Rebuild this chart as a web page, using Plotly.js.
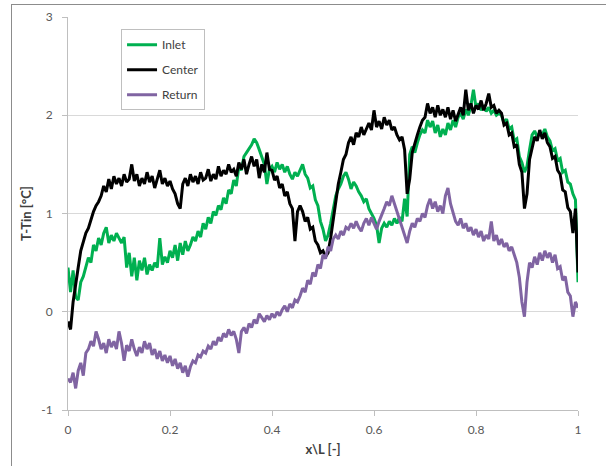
<!DOCTYPE html>
<html>
<head>
<meta charset="utf-8">
<script src="https://cdn.plot.ly/plotly-3.0.1.min.js"></script>
<style>
  html, body { margin: 0; padding: 0; background: #ffffff; }
  #wrap { position: relative; width: 606px; height: 466px; overflow: hidden; }
  #frame { position: absolute; left: 11px; top: 4px; width: 700px; height: 600px;
           border-top: 1px solid #8c8c8c; border-left: 1px solid #8c8c8c; pointer-events: none; z-index: 5; }
  #chart { position: absolute; left: 0; top: 0; width: 606px; height: 466px; }
</style>
</head>
<body>
<div id="wrap">
  <div id="chart"></div>
  <div id="frame"></div>
</div>
<script>
// sample spacing along x\L (201 samples from 0 to 1)
const nSamples = 201;
const xStep = 0.005;

const inlet = [
 0.45,0.20,0.42,0.15,0.12,0.30,0.36,0.45,0.55,0.50,
 0.68,0.62,0.75,0.68,0.80,0.86,0.70,0.78,0.72,0.80,
 0.75,0.70,0.76,0.45,0.60,0.36,0.55,0.32,0.52,0.42,
 0.55,0.38,0.48,0.42,0.50,0.45,0.75,0.48,0.56,0.50,
 0.62,0.55,0.68,0.52,0.70,0.58,0.72,0.62,0.68,0.76,
 0.72,0.82,0.76,0.90,0.84,0.96,0.90,1.02,0.98,1.08,
 1.04,1.16,1.10,1.24,1.20,1.34,1.28,1.48,1.44,1.58,
 1.62,1.66,1.70,1.76,1.72,1.65,1.58,1.50,1.30,1.45,
 1.48,1.42,1.52,1.45,1.50,1.42,1.48,1.40,1.35,1.42,
 1.38,1.45,1.50,1.40,1.36,1.26,1.28,1.14,1.08,0.92,
 0.84,0.72,0.78,0.90,1.05,1.18,1.25,1.30,1.38,1.42,
 1.35,1.25,1.32,1.28,1.22,1.18,1.12,1.15,1.05,1.00,
 0.95,0.88,0.70,0.85,0.90,0.86,0.92,0.88,0.95,0.90,
 0.96,0.92,1.15,0.97,1.60,1.68,1.62,1.72,1.80,1.85,
 1.82,1.95,1.88,1.94,1.82,1.90,1.78,1.86,1.80,1.92,
 1.85,1.95,1.88,1.98,2.02,1.96,2.06,2.00,2.10,2.26,
 2.08,2.12,2.05,2.10,2.04,2.08,2.02,2.05,2.00,2.02,
 2.00,1.92,1.96,1.86,1.88,1.74,1.76,1.58,1.52,1.42,
 1.48,1.65,1.80,1.84,1.78,1.82,1.80,1.86,1.78,1.74,
 1.64,1.66,1.54,1.56,1.42,1.44,1.32,1.30,1.20,1.14,
 0.30
];

const center = [
 -0.10,-0.18,0.10,0.30,0.45,0.62,0.70,0.80,0.85,0.95,
 1.02,1.08,1.12,1.18,1.28,1.22,1.35,1.25,1.38,1.30,
 1.36,1.28,1.40,1.32,1.35,1.50,1.33,1.40,1.28,1.36,
 1.30,1.42,1.32,1.38,1.26,1.35,1.44,1.30,1.36,1.28,
 1.33,1.25,1.20,1.10,1.05,1.30,1.36,1.28,1.40,1.32,
 1.38,1.30,1.42,1.34,1.36,1.45,1.33,1.40,1.35,1.48,
 1.38,1.44,1.40,1.50,1.42,1.45,1.38,1.52,1.45,1.55,
 1.40,1.50,1.58,1.48,1.55,1.36,1.50,1.42,1.62,1.45,
 1.44,1.34,1.38,1.26,1.30,1.18,1.22,1.10,1.05,0.72,
 1.02,1.08,1.02,0.92,0.96,0.84,0.86,0.72,0.68,0.60,
 0.62,0.56,0.60,0.75,0.95,1.15,1.30,1.42,1.55,1.60,
 1.72,1.78,1.70,1.82,1.78,1.88,1.80,1.86,1.92,1.85,
 2.05,1.88,1.94,1.86,1.98,1.90,1.95,1.85,1.88,1.80,
 1.75,1.78,1.65,1.20,1.35,1.62,1.72,1.80,1.88,1.95,
 1.98,2.12,2.02,2.08,1.98,2.10,2.00,2.06,1.98,2.08,
 1.96,2.05,1.94,2.02,2.08,2.00,2.26,2.05,2.12,2.02,
 2.10,2.06,2.15,2.05,2.12,2.22,2.08,2.10,2.02,2.05,
 2.02,1.90,1.92,1.80,1.82,1.68,1.70,1.50,1.42,1.05,
 1.20,1.55,1.68,1.78,1.74,1.85,1.76,1.82,1.72,1.68,
 1.56,1.58,1.44,1.40,1.24,1.22,1.06,1.02,0.80,1.05,
 0.40
];

const ret = [
 -0.68,-0.72,-0.62,-0.78,-0.60,-0.52,-0.65,-0.42,-0.38,-0.30,
 -0.35,-0.20,-0.28,-0.38,-0.32,-0.42,-0.28,-0.36,-0.30,-0.38,
 -0.20,-0.32,-0.50,-0.34,-0.40,-0.28,-0.38,-0.45,-0.36,-0.42,
 -0.30,-0.38,-0.32,-0.44,-0.38,-0.48,-0.40,-0.50,-0.44,-0.52,
 -0.45,-0.55,-0.48,-0.58,-0.52,-0.62,-0.55,-0.66,-0.56,-0.50,
 -0.52,-0.44,-0.46,-0.40,-0.42,-0.35,-0.38,-0.30,-0.34,-0.26,
 -0.30,-0.22,-0.26,-0.18,-0.24,-0.20,-0.28,-0.42,-0.20,-0.16,
 -0.22,-0.12,-0.16,-0.08,-0.12,-0.02,-0.06,-0.10,-0.04,-0.08,
 -0.02,-0.06,0.00,-0.04,0.02,0.06,0.00,0.08,0.04,0.12,
 0.10,0.16,0.24,0.20,0.32,0.28,0.40,0.36,0.48,0.44,
 0.58,0.54,0.66,0.62,0.74,0.78,0.74,0.82,0.78,0.86,
 0.84,0.90,0.85,0.92,0.86,0.82,0.90,0.95,0.88,0.96,
 0.90,0.84,0.92,0.98,1.05,1.12,1.08,1.18,1.10,1.02,
 0.95,0.88,0.80,0.70,0.82,0.90,0.86,0.95,0.92,1.00,
 0.96,1.08,1.15,1.05,1.12,1.02,1.08,1.00,1.18,1.26,
 1.10,1.00,0.92,0.88,0.95,0.85,0.90,0.82,0.86,0.78,
 0.84,0.76,0.82,0.72,0.78,0.74,0.92,0.72,0.78,0.68,
 0.74,0.66,0.70,0.62,0.66,0.58,0.50,0.35,0.10,-0.05,
 0.30,0.50,0.45,0.56,0.48,0.60,0.52,0.62,0.55,0.60,
 0.50,0.58,0.44,0.46,0.32,0.36,0.20,0.16,-0.05,0.10,
 0.04
];

const xTickVals = [0, 0.2, 0.4, 0.6, 0.8, 1];
const xTickText = ['0', '0.2', '0.4', '0.6', '0.8', '1'];
const yTickVals = [-1, 0, 1, 2, 3];
const yTickText = ['-1', '0', '1', '2', '3'];

const xs = [];
for (let i = 0; i < nSamples; i++) xs.push(Math.round(i * xStep * 1000) / 1000);

const font = 'Lato, "Liberation Sans", Arial, sans-serif';

const traces = [
  { x: xs, y: inlet, name: 'Inlet', type: 'scatter', mode: 'lines',
    line: { color: '#00B050', width: 3 }, legendgroup: 'a' },
  { x: xs, y: center, name: 'Center', type: 'scatter', mode: 'lines',
    line: { color: '#000000', width: 3 }, legendgroup: 'b' },
  { x: xs, y: ret, name: 'Return', type: 'scatter', mode: 'lines',
    line: { color: '#8064A2', width: 3 }, legendgroup: 'c' }
];

const layout = {
  width: 606, height: 466,
  margin: { l: 68, r: 28, t: 17, b: 56, pad: 0 },
  paper_bgcolor: '#ffffff', plot_bgcolor: '#ffffff',
  font: { family: font, size: 12, color: '#595959' },
  showlegend: true,
  legend: {
    x: 0.104, y: 0.969, xanchor: 'left', yanchor: 'top',
    bgcolor: '#ffffff', bordercolor: '#bfbfbf', borderwidth: 1,
    font: { family: font, size: 12, color: '#404040' },
    traceorder: 'grouped', tracegroupgap: 6
  },
  xaxis: {
    range: [0, 1], tickvals: xTickVals, ticktext: xTickText,
    showgrid: false, zeroline: false,
    showline: true, linecolor: '#bfbfbf', linewidth: 1,
    ticks: 'outside', ticklen: 5, tickcolor: '#bfbfbf',
    ticklabelstandoff: 4,
    tickfont: { family: font, size: 12, color: '#595959' },
    title: { text: '<b>x\\L [-]</b>', font: { family: font, size: 13, color: '#404040' }, standoff: 8 }
  },
  yaxis: {
    range: [-1, 3], tickvals: yTickVals, ticktext: yTickText,
    showgrid: true, gridcolor: '#d9d9d9', gridwidth: 1, zeroline: false,
    showline: true, linecolor: '#bfbfbf', linewidth: 1,
    ticks: 'outside', ticklen: 5, tickcolor: '#bfbfbf',
    ticklabelstandoff: 7,
    tickfont: { family: font, size: 12, color: '#595959' },
    title: { text: '<b>T-Tin [°C]</b>', font: { family: font, size: 13, color: '#404040' }, standoff: 6 }
  }
};

Plotly.newPlot('chart', traces, layout, { displayModeBar: false, staticPlot: true });
</script>
</body>
</html>
